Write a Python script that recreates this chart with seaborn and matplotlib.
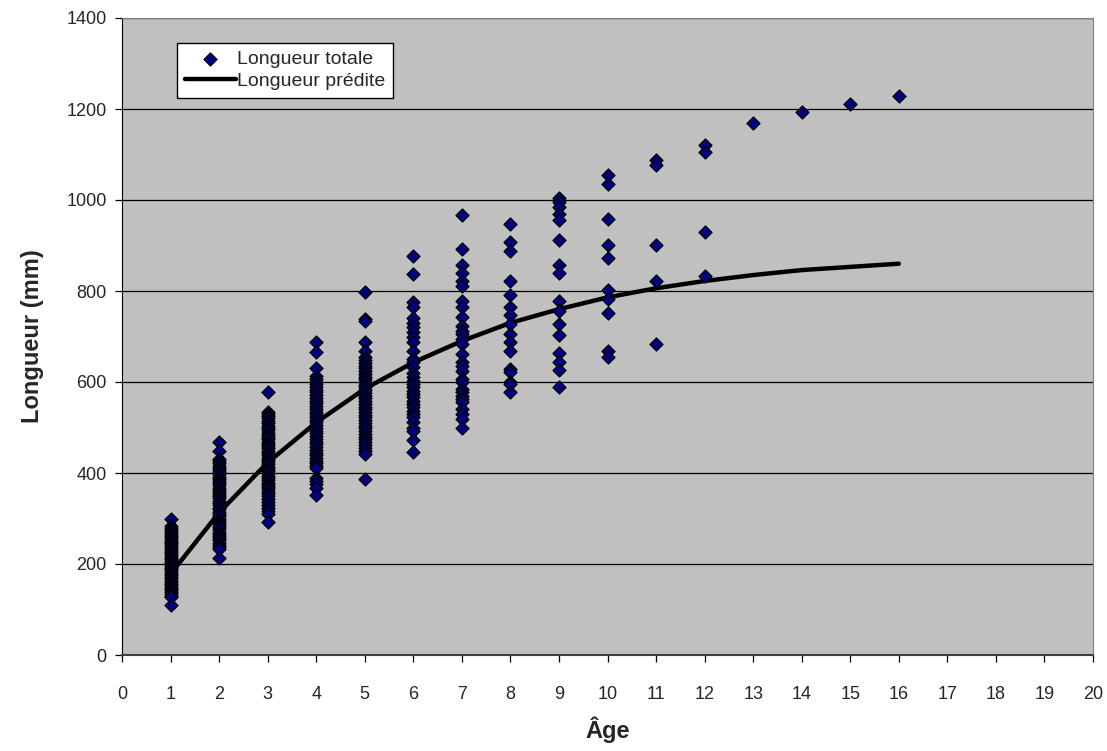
import numpy as np
import pandas as pd
import matplotlib
matplotlib.use("Agg")
import matplotlib.pyplot as plt
import seaborn as sns

# lengths (mm), one list per age
age_1 = [298, 283, 279, 274, 270, 266, 261, 257, 253, 249, 246, 241, 237, 233, 229, 226, 222, 218, 214, 210,
         207, 203, 199, 195, 191, 188, 184, 180, 176, 172, 169, 165, 161, 157, 153, 149, 146, 142, 138, 134,
         130, 127, 110]
age_2 = [469, 449, 431, 426, 421, 416, 411, 406, 402, 397, 392, 387, 382, 378, 373, 368, 363, 358, 353, 349,
         344, 339, 334, 329, 324, 320, 315, 310, 305, 300, 295, 290, 286, 281, 276, 271, 266, 261, 257, 252,
         247, 242, 238, 233, 214]
age_3 = [577, 533, 530, 525, 520, 515, 510, 504, 499, 494, 489, 484, 479, 474, 469, 464, 459, 454, 449, 444,
         439, 434, 429, 424, 419, 414, 409, 404, 399, 394, 389, 384, 379, 374, 369, 364, 359, 354, 349, 343,
         337, 330, 323, 316, 310, 292]
age_4 = [687, 667, 630, 613, 607, 601, 595, 589, 583, 577, 571, 565, 559, 553, 547, 541, 535, 529, 523, 517,
         511, 505, 499, 493, 487, 481, 475, 469, 463, 457, 451, 445, 439, 433, 427, 421, 415, 412, 390, 383,
         376, 368, 352]
age_5 = [797, 739, 735, 687, 669, 654, 648, 642, 636, 630, 624, 618, 612, 606, 600, 594, 588, 582, 576, 570,
         564, 558, 552, 546, 540, 534, 528, 522, 516, 510, 504, 498, 492, 486, 480, 474, 468, 462, 456, 448,
         442, 387]
age_6 = [877, 838, 776, 765, 740, 730, 720, 710, 700, 688, 669, 651, 643, 632, 620, 610, 602, 595, 588, 580,
         573, 566, 558, 551, 544, 536, 529, 522, 511, 500, 493, 473, 447]
age_7 = [968, 893, 858, 839, 823, 812, 779, 765, 742, 724, 713, 705, 694, 684, 662, 643, 636, 625, 607, 600,
         585, 578, 570, 563, 556, 541, 530, 519, 500]
age_8 = [948, 908, 889, 822, 791, 764, 748, 727, 705, 687, 669, 628, 621, 601, 595, 577]
age_9 = [1004, 995, 984, 969, 957, 912, 858, 840, 778, 757, 728, 703, 664, 643, 627, 589]
age_10 = [1055, 1035, 959, 902, 873, 803, 782, 752, 669, 654]
age_11 = [1088, 1078, 902, 821, 683]
age_12 = [1120, 1105, 930, 834]
age_13 = [1169]
age_14 = [1193]
age_15 = [1211]
age_16 = [1229]

# predicted length (mm) at each age
pred_ages = [1, 2, 3, 4, 5, 6, 7, 8, 9, 10, 11, 12, 13, 14, 15, 16]
pred_len = [178, 313, 423, 511, 585, 643, 690, 730, 760, 786, 806, 822, 835, 846, 853, 860]

groups = [age_1, age_2, age_3, age_4, age_5, age_6, age_7, age_8,
          age_9, age_10, age_11, age_12, age_13, age_14, age_15, age_16]
obs = pd.DataFrame({
    "age": np.concatenate([[i + 1] * len(g) for i, g in enumerate(groups)]),
    "length": np.concatenate(groups),
})
pred = pd.DataFrame({"age": pred_ages, "length": pred_len})

sns.set_style("white")
plt.rcParams["font.family"] = ["Liberation Sans", "DejaVu Sans"]

fig = plt.figure(figsize=(11.07, 7.51), dpi=100)
ax = fig.add_axes([122 / 1107, 1 - 655 / 751, (1093 - 122) / 1107, (655 - 18) / 751])
ax.set_facecolor("#C0C0C0")

sns.lineplot(data=pred, x="age", y="length", ax=ax, color="black", linewidth=3.2,
             label="Longueur prédite", zorder=2)
sns.scatterplot(data=obs, x="age", y="length", ax=ax, marker="D", s=44, color="#000080",
                edgecolor="black", linewidth=0.9, label="Longueur totale", zorder=3)

ax.set_xlim(0, 20)
ax.set_ylim(0, 1400)
ax.set_xticks(range(0, 21))
ax.set_yticks(range(0, 1401, 200))
ax.yaxis.grid(True, color="black", linewidth=0.9)
ax.set_axisbelow(True)
ax.tick_params(axis="both", direction="out", length=5, width=0.9, color="black",
               labelsize=13, pad=6, left=True, bottom=True)
ax.tick_params(axis="x", pad=17)
for side in ["top", "right"]:
    ax.spines[side].set_color("#808080")
ax.spines["left"].set_color("black")
ax.spines["bottom"].set_color("#404040")
ax.spines["bottom"].set_linewidth(1.5)

ax.set_xlabel("Âge", fontsize=17, fontweight="bold", labelpad=10)
ax.set_ylabel("Longueur (mm)", fontsize=17, fontweight="bold", labelpad=16)

handles, labels = ax.get_legend_handles_labels()
order = [labels.index("Longueur totale"), labels.index("Longueur prédite")]
leg = ax.legend([handles[i] for i in order], [labels[i] for i in order],
                loc="upper left", bbox_to_anchor=(0.057, 0.961), borderaxespad=0,
                fontsize=14, frameon=True, fancybox=False, handlelength=2.6,
                handletextpad=0.05, borderpad=0.4, labelspacing=0.2)
leg.get_frame().set_edgecolor("black")
leg.get_frame().set_facecolor("white")
leg.get_frame().set_alpha(1)

fig.savefig("out.png", dpi=100)
